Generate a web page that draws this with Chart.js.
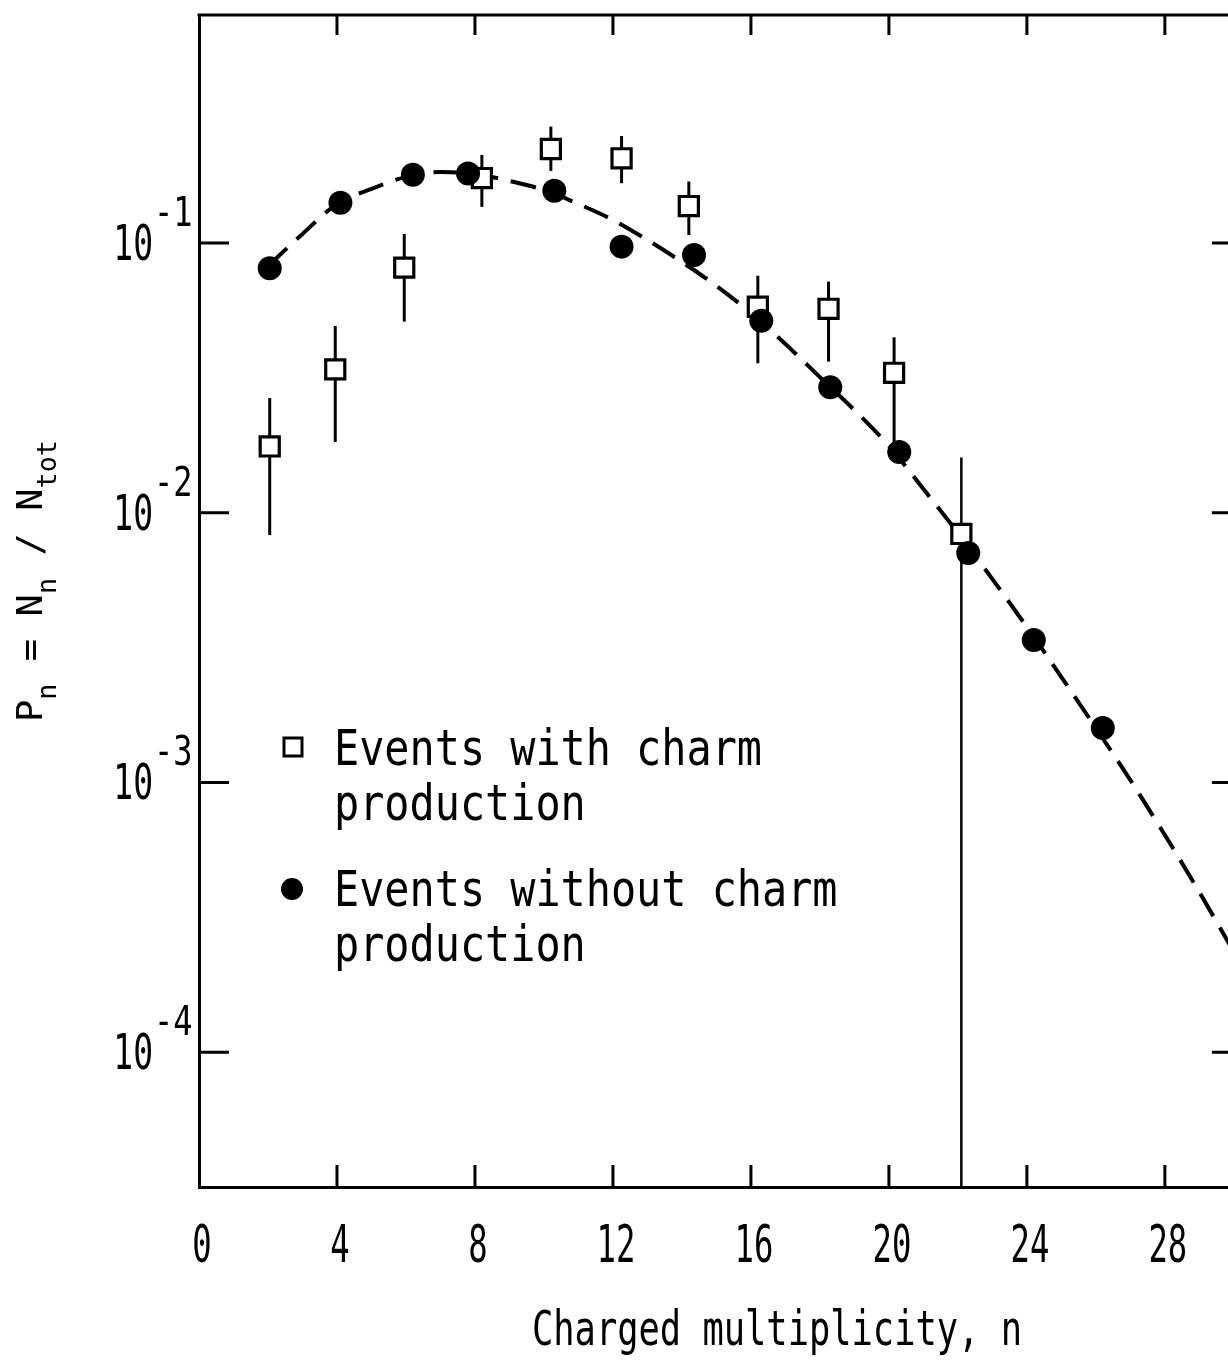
<!DOCTYPE html>
<html>
<head>
<meta charset="utf-8">
<script src="https://cdn.jsdelivr.net/npm/chart.js@4.4.0/dist/chart.umd.min.js"></script>
<style>
html, body { margin: 0; padding: 0; background: #fff; overflow: hidden; }
</style>
</head>
<body>
<canvas id="chart" width="1228" height="1364"></canvas>
<script>
// tick values
const xTicks = [0, 4, 8, 12, 16, 20, 24, 28];
const yTicks = [1e-1, 1e-2, 1e-3, 1e-4];
const yTickExp = ['-1', '-2', '-3', '-4'];

// events with charm production (open squares) + error bars
const charmN  = [2.05, 3.95, 5.95, 8.2, 10.2, 12.25, 14.2, 16.2, 18.25, 20.15, 22.1];
const charmP  = [0.0176, 0.0340, 0.0810, 0.174, 0.223, 0.206, 0.137, 0.058, 0.057, 0.033, 0.00834];
const charmHi = [0.0266, 0.0492, 0.108, 0.212, 0.270, 0.249, 0.169, 0.0756, 0.0719, 0.0447, 0.0160];
const charmLo = [0.00826, 0.0183, 0.0511, 0.136, 0.185, 0.1665, 0.107, 0.0358, 0.0363, 0.0176, 0];

// events without charm production (filled circles)
const noCharmN = [2.05, 4.1, 6.2, 7.8, 10.3, 12.25, 14.35, 16.3, 18.3, 20.3, 22.3, 24.2, 26.2];
const noCharmP = [0.0806, 0.141, 0.179, 0.181, 0.156, 0.0969, 0.0903, 0.0515, 0.0292, 0.0168, 0.00709, 0.00337, 0.00159];

// dashed curve
const fitN = [2, 3, 4, 5, 6, 7, 8, 9, 10, 11, 12, 13, 14, 15, 16, 17, 18, 19, 20, 21, 22, 23, 24, 25, 26, 27, 28, 29, 30];
const fitP = [0.0822, 0.108, 0.1395, 0.1586, 0.1757, 0.1833, 0.1803, 0.1698, 0.1572, 0.1395, 0.1217, 0.1026, 0.085,
              0.0693, 0.055, 0.0422, 0.0318, 0.024, 0.01767, 0.01224, 0.00841, 0.00567, 0.003767, 0.002458,
              0.00159, 0.00102, 0.000638, 0.000392, 0.000235];

// the figure is cut off a little before n = 30
const xMin = 0, xMax = 29.83, xFrame = 30;

const legendLines = [['Events with charm', 'production'], ['Events without charm', 'production']];
const xTitle = 'Charged multiplicity, n';
const yTitleRuns = [['P', 0], ['n', 1], [' = ', 0], ['N', 0], ['n', 1], [' / ', 0], ['N', 0], ['tot', 1]];

const FONT = '"DejaVu Sans Mono", monospace';

function drawText(ctx, s, x, y, size, sx, align) {
    ctx.save();
    ctx.font = size + 'px ' + FONT;
    ctx.translate(x, y);
    ctx.scale(sx, 1);
    ctx.textAlign = align;
    ctx.textBaseline = 'alphabetic';
    ctx.fillStyle = '#000';
    ctx.fillText(s, 0, 0);
    ctx.restore();
}

function fitScale(ctx, s, size, w) {
    ctx.font = size + 'px ' + FONT;
    return w / ctx.measureText(s).width;
}

const decor = {
    id: 'decor',
    beforeDatasetsDraw(chart) {
        // error bars, drawn under the squares
        const ctx = chart.ctx, xs = chart.scales.x, ys = chart.scales.y, a = chart.chartArea;
        ctx.save();
        ctx.strokeStyle = '#000';
        for (let i = 0; i < charmN.length; i++) {
            const px = xs.getPixelForValue(charmN[i]);
            const top = ys.getPixelForValue(charmHi[i]);
            const bot = charmLo[i] > 0 ? ys.getPixelForValue(charmLo[i]) : a.bottom;
            ctx.lineWidth = charmLo[i] > 0 ? 3 : 2.5;
            ctx.beginPath();
            ctx.moveTo(px, top);
            ctx.lineTo(px, bot);
            ctx.stroke();
        }
        ctx.restore();
    },
    afterDraw(chart) {
        const ctx = chart.ctx, xs = chart.scales.x, ys = chart.scales.y, a = chart.chartArea;
        const right = xs.getPixelForValue(xFrame);
        ctx.save();
        ctx.strokeStyle = '#000';
        ctx.lineWidth = 3;

        // top + right frame (right side falls just past the canvas edge)
        ctx.beginPath();
        ctx.moveTo(a.left - 1.5, a.top);
        ctx.lineTo(right, a.top);
        ctx.lineTo(right, a.bottom);
        ctx.stroke();

        // inward ticks
        ctx.beginPath();
        xTicks.forEach(v => {
            if (v === 0) return;
            const px = xs.getPixelForValue(v);
            ctx.moveTo(px, a.bottom); ctx.lineTo(px, a.bottom - 22);
            ctx.moveTo(px, a.top); ctx.lineTo(px, a.top + 20);
        });
        yTicks.forEach(v => {
            const py = ys.getPixelForValue(v);
            ctx.moveTo(a.left, py); ctx.lineTo(a.left + 30, py);
            ctx.moveTo(right, py); ctx.lineTo(right - 22, py);
        });
        ctx.stroke();

        // tick labels
        xTicks.forEach(v => {
            drawText(ctx, String(v), xs.getPixelForValue(v) + 3, a.bottom + 75, 52, 0.62, 'center');
        });
        yTicks.forEach((v, i) => {
            const py = ys.getPixelForValue(v);
            drawText(ctx, '10', 153, py + 17, 50, 0.66, 'right');
            drawText(ctx, yTickExp[i], 154, py - 17, 40, 0.8, 'left');
        });

        // x title
        const tsx = fitScale(ctx, xTitle, 48, 490);
        drawText(ctx, xTitle, 777, 1345, 48, tsx, 'center');

        // y title, rotated, with subscripts
        ctx.save();
        ctx.translate(42, 722);
        ctx.rotate(-Math.PI / 2);
        let total = 0;
        yTitleRuns.forEach(r => {
            ctx.font = (r[1] ? 26 : 36) + 'px ' + FONT;
            total += ctx.measureText(r[0]).width;
        });
        ctx.scale(282 / total, 1);
        ctx.fillStyle = '#000';
        ctx.textBaseline = 'alphabetic';
        let cur = 0;
        yTitleRuns.forEach(r => {
            ctx.font = (r[1] ? 26 : 36) + 'px ' + FONT;
            ctx.fillText(r[0], cur, r[1] ? 14 : 0);
            cur += ctx.measureText(r[0]).width;
        });
        ctx.restore();

        // legend
        ctx.fillStyle = '#fff';
        ctx.lineWidth = 3;
        ctx.beginPath();
        ctx.rect(284, 738, 18, 18);
        ctx.fill();
        ctx.stroke();
        ctx.fillStyle = '#000';
        ctx.beginPath();
        ctx.arc(292, 889, 11, 0, Math.PI * 2);
        ctx.fill();

        const lsx = fitScale(ctx, legendLines[0][0], 49, 428);
        drawText(ctx, legendLines[0][0], 334, 765, 49, lsx, 'left');
        drawText(ctx, legendLines[0][1], 334, 820, 49, lsx, 'left');
        drawText(ctx, legendLines[1][0], 334, 906, 49, lsx, 'left');
        drawText(ctx, legendLines[1][1], 334, 961, 49, lsx, 'left');

        ctx.restore();
    }
};

new Chart(document.getElementById('chart'), {
    type: 'line',
    data: {
        datasets: [
            {
                label: 'Events without charm production',
                data: noCharmN.map((n, i) => ({x: n, y: noCharmP[i]})),
                showLine: false,
                pointStyle: 'circle',
                pointRadius: 12,
                pointBackgroundColor: '#000',
                pointBorderColor: '#000',
                pointBorderWidth: 0
            },
            {
                label: 'Events with charm production',
                data: charmN.map((n, i) => ({x: n, y: charmP[i]})),
                showLine: false,
                pointStyle: 'rect',
                pointRadius: 13.5,
                pointBackgroundColor: '#fff',
                pointBorderColor: '#000',
                pointBorderWidth: 3.2
            },
            {
                label: 'fit',
                data: fitN.map((n, i) => ({x: n, y: fitP[i]})),
                borderColor: '#000',
                borderWidth: 4,
                borderDash: [26, 13],
                pointRadius: 0,
                cubicInterpolationMode: 'monotone',
                fill: false
            }
        ]
    },
    options: {
        responsive: false,
        animation: false,
        devicePixelRatio: 1,
        layout: { autoPadding: false, padding: { top: 15, right: 0, left: 0, bottom: 0 } },
        plugins: { legend: { display: false }, tooltip: { enabled: false } },
        scales: {
            x: {
                type: 'linear', min: xMin, max: xMax,
                ticks: { display: false },
                grid: { display: false },
                border: { display: true, color: '#000', width: 3 },
                afterFit(s) { s.height = 177; }
            },
            y: {
                type: 'logarithmic', min: 3.1623e-5, max: 0.7,
                ticks: { display: false },
                grid: { display: false },
                border: { display: true, color: '#000', width: 3 },
                afterFit(s) { s.width = 199; }
            }
        }
    },
    plugins: [decor]
});
</script>
</body>
</html>
